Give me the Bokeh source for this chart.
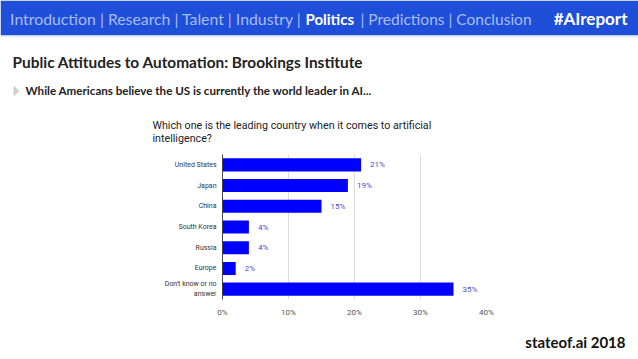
from bokeh.plotting import figure
from bokeh.layouts import column
from bokeh.models import (Range1d, FixedTicker, PrintfTickFormatter,
                          Label, ColumnDataSource)
from bokeh.core.properties import value
from bokeh.embed import file_html
from bokeh.resources import INLINE

# ---- data ----
categories = ["United States", "Japan", "China", "South Korea", "Russia", "Europe",
              "Don't know or no\nanswer"]
shares = [21, 19, 15, 4, 4, 2, 35]
share_labels = ["21%", "19%", "15%", "4%", "4%", "2%", "35%"]
x_ticks = [0, 10, 20, 30, 40]

nav_left = "Introduction | Research | Talent | Industry |"
nav_bold = "Politics"
nav_right = "| Predictions | Conclusion"
hashtag = "#AIreport"
heading = "Public Attitudes to Automation: Brookings Institute"
subheading = "While Americans believe the US is currently the world leader in AI..."
question_lines = ["Which one is the leading country when it comes to artificial", "intelligence?"]
footer = "stateof.ai 2018"

W = 638
H_TOP, H_MID, H_BOT = 150, 175, 34


def blank(h, y0):
    f = figure(width=W, height=h, output_backend="svg", toolbar_location=None,
               x_range=Range1d(0, W), y_range=Range1d(y0 + h, y0),
               x_axis_type=None, y_axis_type=None, min_border=0,
               background_fill_color="white", border_fill_color="white",
               frame_align=False)
    f.outline_line_color = None
    f.grid.visible = False
    return f


def lab(f, text, x, y, size, color, bold=False, font="Lato", align="left"):
    f.add_layout(Label(x=x, y=y, text=text, text_font=font, text_font_size=size,
                       text_color=color, text_font_style="bold" if bold else "normal",
                       text_align=align, text_baseline="middle"))


# ---- header figure (reference pixel coordinates) ----
top = blank(H_TOP, 0)
top.quad(left=[0], right=[W], top=[0], bottom=[35], fill_color="#1f4fd8", line_color=None)
top.quad(left=[0], right=[W], top=[35], bottom=[37], fill_color="#e6f2f8", line_color=None)
lab(top, nav_left, 301, 18, "15.8px", "#a9bdf3", align="right")
lab(top, nav_bold, 305, 18, "15px", "#ffffff", bold=True)
lab(top, nav_right, 360, 18, "15.5px", "#a9bdf3")
lab(top, hashtag, 627, 18, "17px", "#ffffff", bold=True, align="right")
lab(top, heading, 12, 61, "15.4px", "#222222", bold=True)
top.patch(x=[13, 19, 13], y=[85, 90.5, 96], fill_color="#d0d0d0", line_color=None)
lab(top, subheading, 25, 90, "11.6px", "#222222", bold=True)
lab(top, question_lines[0], 152, 125, "10.7px", "#222222", font="Roboto")
lab(top, question_lines[1], 152, 138, "10.7px", "#222222", font="Roboto")

# ---- chart figure: frame left 222, right 486, top 154, bottom 299 (reference px) ----
n = len(categories)
pos = list(range(n))
p = figure(width=W, height=H_MID, output_backend="svg", toolbar_location=None,
           y_range=Range1d(n - 0.5, -0.5), x_range=Range1d(0, 40),
           min_border_left=222, min_border_right=W - 486,
           min_border_top=154 - H_TOP, min_border_bottom=H_TOP + H_MID - 299,
           background_fill_color="white", border_fill_color="white",
           frame_align=False)
p.outline_line_color = None

src = ColumnDataSource(dict(y=pos, share=shares, lab=share_labels))
p.hbar(y="y", right="share", left=0, height=0.63, source=src,
       fill_color="#0000ff", line_color=None)
p.text(x="share", y="y", text="lab", source=src, x_offset=9,
       text_font=value("Roboto"), text_font_size="8px", text_color="#4a4ac8",
       text_baseline="middle", text_align="left")

p.xaxis.ticker = FixedTicker(ticks=x_ticks)
p.xaxis.formatter = PrintfTickFormatter(format="%d%%")
p.xaxis.axis_line_color = None
p.xaxis.major_tick_line_color = None
p.xaxis.minor_tick_line_color = None
p.xaxis.major_label_text_font = "Roboto"
p.xaxis.major_label_text_font_size = "8px"
p.xaxis.major_label_text_color = "#555555"
p.xaxis.major_label_standoff = 2

p.yaxis.ticker = FixedTicker(ticks=pos)
p.yaxis.major_label_overrides = {i: c for i, c in zip(pos, categories)}
p.yaxis.axis_line_color = "#444444"
p.yaxis.major_tick_line_color = None
p.yaxis.minor_tick_line_color = None
p.yaxis.major_label_text_font = "Roboto"
p.yaxis.major_label_text_font_size = "7px"
p.yaxis.major_label_text_color = "#333333"
p.yaxis.major_label_standoff = 0

p.xgrid.grid_line_color = "#dcdcdc"
p.ygrid.grid_line_color = None

# ---- footer figure ----
y_bot = H_TOP + H_MID
bot = blank(H_BOT, y_bot)
lab(bot, footer, 625, 341, "15px", "#111111", bold=True, align="right")

layout = column(top, p, bot, spacing=0)
open("out.html", "w").write(file_html(layout, INLINE))
